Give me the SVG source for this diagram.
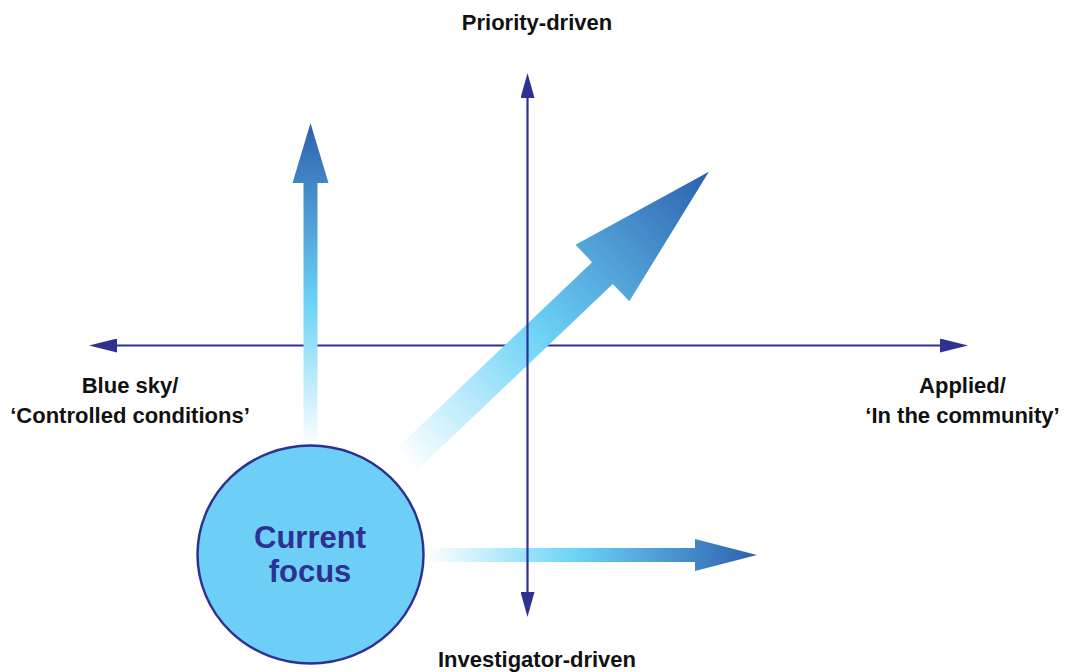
<svg xmlns="http://www.w3.org/2000/svg" width="1068" height="672" viewBox="0 0 1068 672">
  <style>
    .axis { stroke: #2e3192; stroke-width: 2.2; fill: none; }
    .label { font-family: "Liberation Sans", Arial, sans-serif; font-weight: bold; font-size: 22px; fill: #111111; text-anchor: middle; }
    .focus { font-family: "Liberation Sans", Arial, sans-serif; font-weight: bold; font-size: 31px; fill: #2e3192; text-anchor: middle; }
  </style>
  <defs>
    <marker id="headV" viewBox="0 0 25 14" refX="0" refY="7" markerWidth="25" markerHeight="14" markerUnits="userSpaceOnUse" orient="auto-start-reverse">
      <path d="M0,0 L25,7 L0,14 z" fill="#2e3192"/>
    </marker>
    <marker id="headH" viewBox="0 0 28 14" refX="0" refY="7" markerWidth="28" markerHeight="14" markerUnits="userSpaceOnUse" orient="auto-start-reverse">
      <path d="M0,0 L28,7 L0,14 z" fill="#2e3192"/>
    </marker>
    <!-- fade-in gradients: white tail, bright cyan mid, deep blue head -->
    <linearGradient id="gradUp" gradientUnits="userSpaceOnUse" x1="0" y1="446" x2="0" y2="123">
      <stop offset="0" stop-color="#ffffff"/>
      <stop offset="0.44" stop-color="#6dd3f7"/>
      <stop offset="1" stop-color="#2c60ad"/>
    </linearGradient>
    <linearGradient id="gradRight" gradientUnits="userSpaceOnUse" x1="426" y1="0" x2="757" y2="0">
      <stop offset="0" stop-color="#ffffff"/>
      <stop offset="0.45" stop-color="#6dd3f7"/>
      <stop offset="1" stop-color="#2c60ad"/>
    </linearGradient>
    <linearGradient id="gradDiag" gradientUnits="userSpaceOnUse" x1="0" y1="0" x2="421" y2="0">
      <stop offset="0" stop-color="#ffffff"/>
      <stop offset="0.44" stop-color="#6dd3f7"/>
      <stop offset="1" stop-color="#2c60ad"/>
    </linearGradient>
  </defs>

  <rect x="0" y="0" width="1068" height="672" fill="#ffffff"/>

  <g id="connectors">
    <!-- horizontal axis (sits beneath the arrows) -->
    <line class="axis" x1="117" y1="345.5" x2="940" y2="345.5" marker-start="url(#headH)" marker-end="url(#headH)"/>

    <!-- upward arrow -->
    <polygon id="arrow-up" fill="url(#gradUp)" points="303.5,446 303.5,183 292.5,183 310.5,123 328.5,183 317.5,183 317.5,446"/>

    <!-- diagonal arrow -->
    <g id="arrow-diagonal" transform="translate(404,462) rotate(-43.6)">
      <polygon fill="url(#gradDiag)" points="0,-15 274,-15 274,-39 421,0 274,39 274,15 0,15"/>
    </g>

    <!-- rightward arrow -->
    <polygon id="arrow-right" fill="url(#gradRight)" points="424,548 695,548 695,539 757,555 695,571 695,562 424,562"/>

    <!-- vertical axis -->
    <line class="axis" x1="527.5" y1="98" x2="527.5" y2="592" marker-start="url(#headV)" marker-end="url(#headV)"/>
  </g>

  <g id="current-focus">
    <ellipse cx="310.5" cy="554.5" rx="113" ry="109" fill="#6dcff6" stroke="#2e3192" stroke-width="2.5"/>
    <text class="focus" x="310" y="548">Current</text>
    <text class="focus" x="310" y="582">focus</text>
  </g>

  <g id="label-top">
    <text class="label" x="537" y="30">Priority-driven</text>
  </g>
  <g id="label-bottom">
    <text class="label" x="537" y="667">Investigator-driven</text>
  </g>
  <g id="label-left">
    <text class="label" x="130" y="393">Blue sky/</text>
    <text class="label" x="130" y="423">‘Controlled conditions’</text>
  </g>
  <g id="label-right">
    <text class="label" x="962.5" y="393">Applied/</text>
    <text class="label" x="962.5" y="423">‘In the community’</text>
  </g>
</svg>
